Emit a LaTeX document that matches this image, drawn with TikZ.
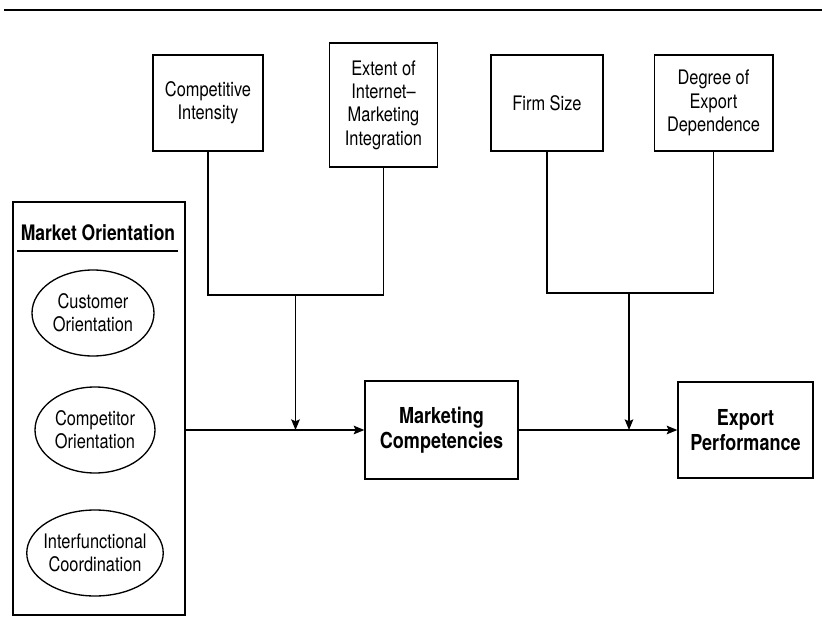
\documentclass[tikz,border=0pt]{standalone}
\usepackage{fontspec}
\setmainfont{TeX Gyre Heros}[FakeStretch=0.82]
\usetikzlibrary{shapes.geometric,arrows.meta}

\tikzset{
  factor/.style={draw, line width=1pt, align=center, inner sep=2pt,
    font=\fontsize{15}{17.5}\selectfont},
  construct/.style={factor, font=\fontsize{16.5}{18.5}\selectfont\bfseries},
  dimension/.style={ellipse, draw, line width=1pt, align=center, inner xsep=-2.5pt, inner ysep=0pt,
    minimum height=64.5pt, font=\fontsize{15}{17.5}\selectfont},
  link/.style={line width=1pt},
  effect/.style={link, -{Stealth[length=8pt,width=6.5pt,inset=1.5pt]}}
}

\begin{document}
\begin{tikzpicture}[x=0.75pt, y=-0.75pt]
    \useasboundingbox (0,0) rectangle (822,625);
    \draw[line width=2pt] (4,10) -- (822,10);

    % moderating variables
    \node[factor, minimum width=82.5pt, minimum height=72pt] (ci) at (208,103) {Competitive\\Intensity};
    \node[factor, minimum width=81pt, minimum height=93pt] (emi) at (383.5,105) {Extent of\\Internet--\\Marketing\\Integration};
    \node[factor, minimum width=84pt, minimum height=72pt] (fs) at (547,103) {Firm Size};
    \node[factor, minimum width=89pt, minimum height=72pt] (ded) at (713.5,103) {Degree of\\Export\\Dependence};

    % market orientation and its three components
    \node[draw, line width=1pt, minimum width=129pt, minimum height=309.75pt] (mo) at (99,408.5) {};
    \node[font=\fontsize{16}{18.5}\selectfont\bfseries] (motitle) at (98,233) {Market Orientation};
    \draw[link] (17,251) -- (178,251);
    \node[dimension, minimum width=91.5pt] (cuo) at (93,313) {Customer\\Orientation};
    \node[dimension, minimum width=90pt] (coo) at (95,430) {Competitor\\Orientation};
    \node[dimension, minimum width=102pt] (ifc) at (95,553) {Interfunctional\\Coordination};

    \node[construct, minimum width=114.75pt, minimum height=73.5pt] (mc) at (441.5,430) {Marketing\\Competencies};
    \node[construct, minimum width=101.25pt, minimum height=72pt] (ep) at (745.5,430) {Export\\Performance};

    \coordinate (j1) at (295.5,295);
    \coordinate (j2) at (629,293);

    \draw[link] (ci.south) |- (j1) -| (emi.south);
    \draw[link] (fs.south) |- (j2) -| (ded.south);

    \draw[effect] (mo.east |- mc.west) -- (mc.west);
    \draw[effect] (mc.east) -- (ep.west |- mc.east);
    \draw[effect] (j1) -- (j1 |- mc.west);
    \draw[effect] (j2) -- (j2 |- mc.east);
\end{tikzpicture}
\end{document}
